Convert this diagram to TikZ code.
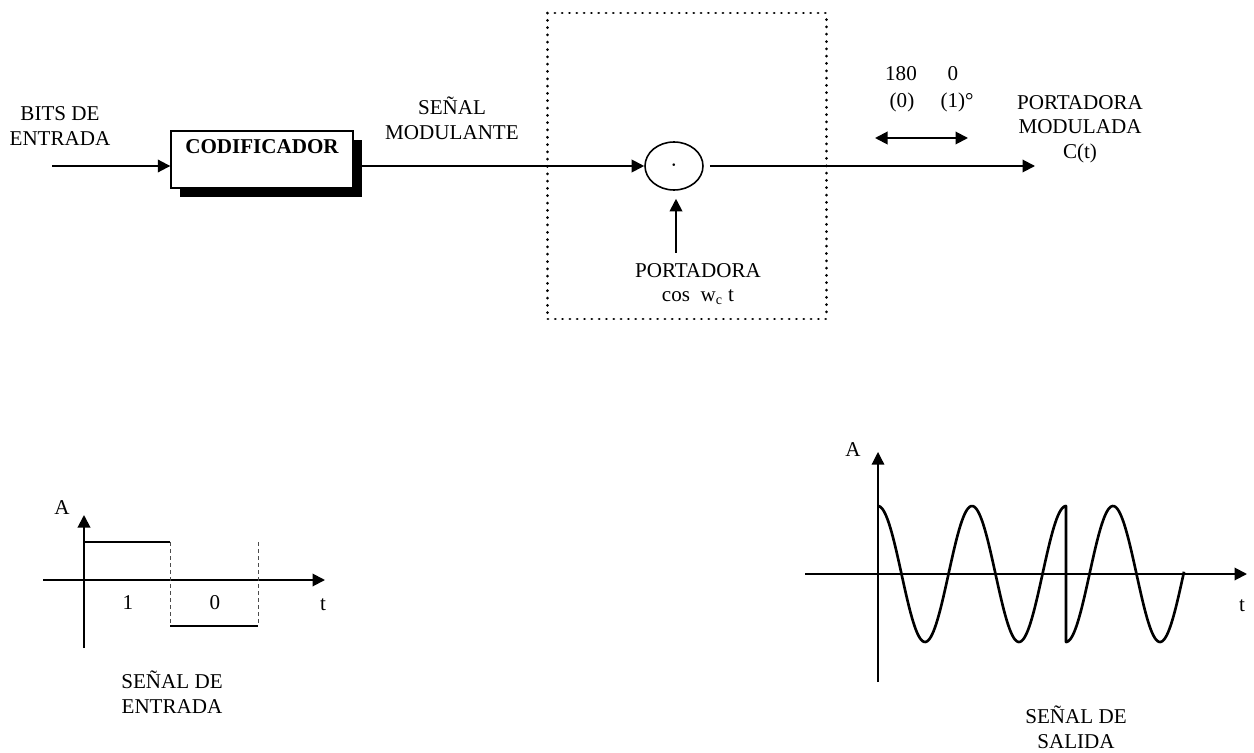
\documentclass[tikz,border=0pt]{standalone}
\usepackage{fontspec}
\setmainfont{Liberation Serif}
\usetikzlibrary{arrows.meta,shapes.geometric,shadows}

\tikzset{
	linea/.style={line width=1.1pt},
	texto/.style={align=center, inner sep=1pt, font=\fontsize{12}{14}\selectfont},
	bloque/.style={draw, fill=white, line width=0.8pt, minimum width=3.64cm, minimum height=1.14cm,
		drop shadow={shadow xshift=0.18cm, shadow yshift=-0.18cm, fill=black, opacity=1}},
	mezclador/.style={draw, ellipse, line width=0.9pt, minimum width=1.16cm, minimum height=0.96cm, inner sep=0pt},
	punteado/.style={line width=1.7pt, line cap=round, dash pattern=on 0.01pt off 4.15pt},
	guia/.style={black!70, line width=0.5pt, dash pattern=on 2pt off 2pt},
	onda/.style={line width=1.5pt, line join=round},
}

\begin{document}
\begin{tikzpicture}[x=0.02cm, y=-0.02cm, >={Triangle[length=2.5mm,width=2.5mm]}]
	\useasboundingbox (0,0) rectangle (1254,753);
	
	\def\yL{166}
	\def\yB{574}
	\def\amp{68}
	\def\per{94}
	
	% ── Diagrama de bloques ─────────────────────────────────────────────
	\node[texto] (bits) at (60,126) {BITS DE\\ENTRADA};
	\coordinate (ent) at (52,\yL);
	\node[bloque] (cod) at (262,159.5) {};
	\node[texto, font=\bfseries\fontsize{12}{14}\selectfont] (codtxt) at (262,147) {CODIFICADOR};
	\node[texto] (modul) at (452,118) {SEÑAL\\MODULANTE};
	\node[mezclador] (mult) at (674,\yL) {\Large$\cdot$};
	\draw[punteado] (547,13) rectangle (826,319);
	
	\draw[linea, ->] (ent) -- (ent -| cod.west);
	\draw[linea, ->] (cod.east |- ent) -- (mult.west);
	
	% portadora
	\node[texto] (port) at (698,284) {PORTADORA\\cos\ \ w\textsubscript{c}\ t};
	\coordinate (pbase) at (676,253);
	\draw[linea, ->, shorten >=0.16cm] (pbase) -- (pbase |- mult.south);
	
	% salida modulada
	\coordinate (sal) at (1035,\yL);
	\draw[linea, ->, shorten <=0.12cm] (mult.east) -- (sal);
	\node[texto] (pmod) at (1080,129) {PORTADORA\\MODULADA\\C(t)};
	
	\node[texto] (f180) at (901,73.5) {180};
	\node[texto] (f0) at (953,73.5) {0};
	\node[texto] (b0) at (902,102) {(0)};
	\node[texto] (b1) at (957,102) {(1)°};
	\coordinate (fa) at (875,138);
	\coordinate (fb) at (968,138);
	\draw[linea, <->] (fa) -- (fb);
	
	% ── Señal de entrada ────────────────────────────────────────────────
	\draw[linea, ->] (84,648) -- (84,515);
	\draw[linea, ->] (43,580) -- (325,580);
	\node[texto] (A1) at (62,508) {A};
	\draw[linea] (84,542) -- (170,542);
	\draw[linea] (170,626) -- (258,626);
	\foreach \xx in {170,258}{
		\draw[guia] (\xx,542) -- (\xx,626);
	}
	\node[texto] (uno) at (128,603) {1};
	\node[texto] (cero) at (215,603) {0};
	\node[texto] (t1) at (323,605) {t};
	\node[texto] (sent) at (172,692) {SEÑAL DE\\ENTRADA};
	
	% ── Señal de salida ─────────────────────────────────────────────────
	\draw[line width=0.7pt, ->] (878,682) -- (878,452);
	\draw[linea, ->] (805,\yB) -- (1247,\yB);
	\node[texto] (A2) at (853,450) {A};
	\node[texto] (t2) at (1242,606) {t};
	\draw[onda] plot[domain=878:1066, samples=140] (\x,{\yB-\amp*cos(360/\per*(\x-878))})
		-- plot[domain=1066:1184, samples=90] (\x,{\yB+\amp*cos(360/\per*(\x-1066))});
	\node[texto] (ssal) at (1076,727) {SEÑAL DE\\SALIDA};
	
\end{tikzpicture}
\end{document}
